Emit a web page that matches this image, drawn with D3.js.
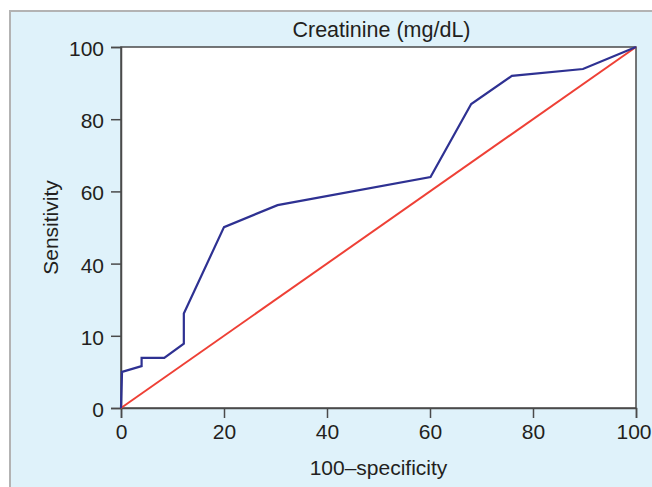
<!DOCTYPE html>
<html><head><meta charset="utf-8">
<script src="https://cdn.jsdelivr.net/npm/d3@7"></script>
<style>html,body{margin:0;padding:0;background:#fff;}svg{display:block;}</style>
</head><body>
<script>
const title = "Creatinine (mg/dL)";
const xLabel = "100\u2013specificity";
const yLabel = "Sensitivity";
const specificity100 = [0, 0.2, 4.0, 4.0, 8.4, 12.2, 12.2, 20.0, 30.4, 60.1, 68.0, 75.9, 89.7, 100];
const sensitivity = [0, 10.0, 11.6, 13.9, 13.9, 17.8, 26.2, 50.1, 56.2, 64.0, 84.2, 92.0, 93.9, 100];
const refX = [0, 100];
const refY = [0, 100];
const xTicks = [0, 20, 40, 60, 80, 100];
const yTicks = [0, 20, 40, 60, 80, 100];
const yTickLabels = ["0", "10", "40", "60", "80", "100"];

const W = 652, H = 487;
const m = {left: 121, right: 636, top: 47, bottom: 408};
const svg = d3.select("body").append("svg").attr("width", W).attr("height", H);
const font = "'Liberation Sans', Arial, Helvetica, sans-serif";
const txt = "#231f20", axc = "#4a4a4a";

// panel background
svg.append("rect").attr("x", 10).attr("y", 11).attr("width", W - 10).attr("height", H - 11).attr("fill", "#dff2fa");
svg.append("line").attr("x1", 10).attr("x2", W).attr("y1", 11).attr("y2", 11).attr("stroke", "#b3b3b3").attr("stroke-width", 2);
svg.append("line").attr("x1", 10).attr("x2", 10).attr("y1", 10).attr("y2", H).attr("stroke", "#b3b3b3").attr("stroke-width", 2);

const x = d3.scaleLinear().domain([0, 100]).range([m.left, m.right]);
const y = d3.scaleLinear().domain([0, 100]).range([m.bottom, m.top]);

svg.append("rect").attr("x", m.left).attr("y", m.top).attr("width", m.right - m.left).attr("height", m.bottom - m.top)
  .attr("fill", "#fff").attr("stroke", axc).attr("stroke-width", 1.5);

const xAxis = svg.append("g").attr("transform", `translate(0,${m.bottom})`)
  .call(d3.axisBottom(x).tickValues(xTicks).tickSize(10).tickPadding(6).tickFormat(d3.format("d")));
const yAxis = svg.append("g").attr("transform", `translate(${m.left},0)`)
  .call(d3.axisLeft(y).tickValues(yTicks).tickSize(10).tickPadding(7).tickFormat((d, i) => yTickLabels[i]));
[xAxis, yAxis].forEach(g => {
  g.select(".domain").attr("stroke", axc).attr("stroke-width", 1.5);
  g.selectAll(".tick line").attr("stroke", axc).attr("stroke-width", 1.5);
  g.selectAll(".tick text").attr("fill", txt).style("font-family", font).style("font-size", "21px");
});
yAxis.selectAll(".tick text").attr("dy", "0.4em");
// keep the last x label inside the page
xAxis.selectAll(".tick text").filter(d => d === 100).attr("text-anchor", "end").attr("x", 15);

// reference line
svg.append("path").datum(refX.map((d, i) => [d, refY[i]]))
  .attr("d", d3.line().x(d => x(d[0])).y(d => y(d[1])))
  .attr("fill", "none").attr("stroke", "#ee4036").attr("stroke-width", 2);
// ROC curve
svg.append("path").datum(specificity100.map((d, i) => [d, sensitivity[i]]))
  .attr("d", d3.line().x(d => x(d[0])).y(d => y(d[1])))
  .attr("fill", "none").attr("stroke", "#2e3192").attr("stroke-width", 2.2).attr("stroke-linejoin", "miter");

svg.append("text").attr("x", (m.left + m.right) / 2 + 3).attr("y", 37).attr("text-anchor", "middle")
  .attr("fill", txt).style("font-family", font).style("font-size", "21.5px").text(title);
svg.append("text").attr("x", (m.left + m.right) / 2).attr("y", 475).attr("text-anchor", "middle")
  .attr("fill", txt).style("font-family", font).style("font-size", "21px").text(xLabel);
svg.append("text").attr("transform", `translate(58,${(m.top + m.bottom) / 2}) rotate(-90)`).attr("text-anchor", "middle")
  .attr("fill", txt).style("font-family", font).style("font-size", "21px").text(yLabel);
</script>
</body></html>
